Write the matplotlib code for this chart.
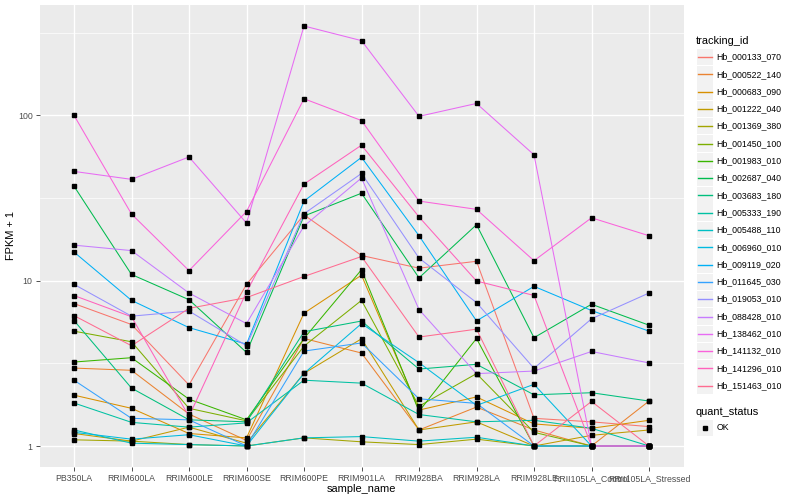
import matplotlib
matplotlib.use("Agg")
import matplotlib.pyplot as plt
import numpy as np
from matplotlib.lines import Line2D
from matplotlib.patches import Rectangle

plt.rcParams["font.family"] = ["Liberation Sans", "DejaVu Sans"]

samples = ["PB350LA", "RRIM600LA", "RRIM600LE", "RRIM600SE", "RRIM600PE",
           "RRIM901LA", "RRIM928BA", "RRIM928LA", "RRIM928LE",
           "RRII105LA_Control", "RRII105LA_Stressed"]

tracking_ids = ["Hb_000133_070", "Hb_000522_140", "Hb_000683_090", "Hb_001222_040",
                "Hb_001369_380", "Hb_001450_100", "Hb_001983_010", "Hb_002687_040",
                "Hb_003683_180", "Hb_005333_190", "Hb_005488_110", "Hb_006960_010",
                "Hb_009119_020", "Hb_011645_030", "Hb_019053_010", "Hb_088428_010",
                "Hb_138462_010", "Hb_141132_010", "Hb_141296_010", "Hb_151463_010"]

# FPKM + 1, one row per tracking_id, one column per sample
fpkm_plus1 = [
    [7.27, 5.43, 2.34, 9.5, 25.0, 14.2, 11.9, 13.1, 1.47, 1.40, 1.31],
    [2.96, 2.87, 1.56, 1.08, 4.47, 3.65, 1.25, 1.72, 1.25, 1.0, 1.87],
    [2.03, 1.69, 1.19, 1.12, 6.36, 10.8, 1.65, 1.98, 1.36, 1.28, 1.43],
    [1.19, 1.07, 1.30, 1.04, 2.75, 4.45, 1.25, 1.40, 1.0, 1.16, 1.25],
    [1.09, 1.07, 1.02, 1.0, 1.12, 1.06, 1.02, 1.10, 1.0, 1.0, 1.0],
    [4.95, 4.27, 1.69, 1.42, 4.02, 7.6, 1.74, 2.74, 1.21, 1.0, 1.0],
    [3.22, 3.42, 1.92, 1.44, 4.47, 11.65, 1.62, 4.47, 1.0, 1.0, 1.0],
    [37.3, 10.9, 7.67, 3.68, 24.6, 33.8, 10.4, 21.8, 4.52, 7.2, 5.38],
    [5.74, 2.24, 1.44, 1.40, 4.91, 5.7, 2.92, 3.12, 2.04, 2.1, 1.87],
    [1.82, 1.39, 1.30, 1.38, 2.50, 2.4, 1.55, 1.40, 1.43, 1.28, 1.0],
    [1.25, 1.04, 1.02, 1.0, 1.12, 1.14, 1.07, 1.13, 1.0, 1.0, 1.0],
    [1.21, 1.10, 1.17, 1.0, 2.75, 5.5, 3.19, 1.76, 2.36, 1.0, 1.0],
    [14.9, 7.6, 5.2, 4.13, 30.3, 55.7, 18.7, 5.71, 9.24, 6.6, 4.95],
    [2.50, 1.47, 1.44, 1.0, 3.75, 4.2, 1.93, 1.81, 1.0, 1.0, 1.0],
    [9.5, 6.1, 6.55, 4.04, 25.4, 44.5, 13.7, 7.37, 2.95, 5.88, 8.42],
    [16.4, 15.2, 8.42, 5.5, 21.4, 41.8, 6.69, 2.74, 2.84, 3.73, 3.18],
    [45.8, 41.0, 56.0, 22.3, 347.0, 283.0, 98.6, 118.0, 57.7, 1.0, 1.0],
    [100.0, 25.3, 11.5, 26.2, 126.0, 93.0, 30.3, 27.0, 13.2, 24.0, 18.7],
    [8.13, 6.05, 1.51, 8.54, 38.4, 66.0, 24.3, 9.95, 8.14, 1.0, 1.0],
    [6.15, 4.04, 6.8, 7.9, 10.6, 14.0, 4.56, 5.09, 1.0, 1.86, 1.0],
]

y_breaks = [1, 10, 100]
y_break_labels = ["1", "10", "100"]

# ggplot2 default hue palette for 20 levels
COLORS = ["#F8766D", "#EA8331", "#D89000", "#C09B00", "#A3A500", "#7CAE00",
          "#39B600", "#00BB4E", "#00BF7D", "#00C1A3", "#00BFC4", "#00BAE0",
          "#00B0F6", "#35A2FF", "#9590FF", "#C77CFF", "#E76BF3", "#FA62DB",
          "#FF62BC", "#FF6C91"]

W, H = 800, 500
fig = plt.figure(figsize=(8, 5), dpi=100)
fig.patch.set_facecolor("white")

# panel in pixel units
px_l, px_r, px_t, px_b = 39.5, 683.5, 5, 467
ax = fig.add_axes([px_l / W, (H - px_b) / H, (px_r - px_l) / W, (px_b - px_t) / H])
ax.set_facecolor("#EBEBEB")
for s in ax.spines.values():
    s.set_visible(False)

x = np.arange(1, len(samples) + 1)
for vals, col in zip(fpkm_plus1, COLORS):
    ax.plot(x, vals, color=col, linewidth=0.75, zorder=2)
for vals in fpkm_plus1:
    ax.plot(x, vals, linestyle="none", marker="s", markersize=2.5,
            color="black", zorder=3)

ax.set_yscale("log")
all_vals = np.log10(np.array(fpkm_plus1))
lo, hi = all_vals.min(), all_vals.max()
pad = 0.05 * (hi - lo)
ax.set_ylim(10 ** (lo - pad), 10 ** (hi + pad))
ax.set_xlim(0.4, len(samples) + 0.6)

ax.set_yticks(y_breaks)
ax.set_yticklabels(y_break_labels)
ax.set_yticks([10 ** 0.5, 10 ** 1.5, 10 ** 2.5], minor=True)
ax.yaxis.set_minor_formatter(matplotlib.ticker.NullFormatter())
ax.set_xticks(x)
ax.set_xticklabels(samples)
ax.tick_params(axis="both", which="major", length=3, width=0.6, color="#333333",
               labelsize=6.3, labelcolor="#4D4D4D", pad=2)
ax.tick_params(axis="y", which="minor", length=0)
ax.grid(True, which="major", color="white", linewidth=1.0, zorder=0)
ax.grid(True, which="minor", axis="y", color="white", linewidth=0.5, zorder=0)
ax.set_axisbelow(True)

ax.set_xlabel("sample_name", fontsize=7.9, color="black", labelpad=1)
ax.set_ylabel("FPKM + 1", fontsize=7.9, color="black", labelpad=1)

# legend drawn in pixel space
lg = fig.add_axes([0, 0, 1, 1], facecolor="none")
lg.set_xlim(0, W)
lg.set_ylim(H, 0)
lg.axis("off")

lg.text(696, 40.5, "tracking_id", fontsize=7.9, va="center", ha="left")
key_x0, key_w, key_h, row = 696.5, 16.5, 16.5, 17.3
for i, (tid, col) in enumerate(zip(tracking_ids, COLORS)):
    cy = 57 + i * row
    lg.add_patch(Rectangle((key_x0, cy - key_h / 2), key_w, key_h,
                           facecolor="#F2F2F2", edgecolor="none"))
    lg.add_line(Line2D([key_x0 + 1.5, key_x0 + key_w - 1.5], [cy, cy],
                       color=col, linewidth=1.0))
    lg.text(716.5, cy, tid, fontsize=6.3, va="center", ha="left")

lg.text(696, 412, "quant_status", fontsize=7.9, va="center", ha="left")
lg.add_patch(Rectangle((key_x0, 428 - key_h / 2), key_w, key_h,
                       facecolor="#F2F2F2", edgecolor="none"))
lg.add_line(Line2D([key_x0 + key_w / 2], [428], marker="s", markersize=2.5,
                   color="black", linestyle="none"))
lg.text(716.5, 428, "OK", fontsize=6.3, va="center", ha="left")

fig.savefig("out.png", dpi=100)
